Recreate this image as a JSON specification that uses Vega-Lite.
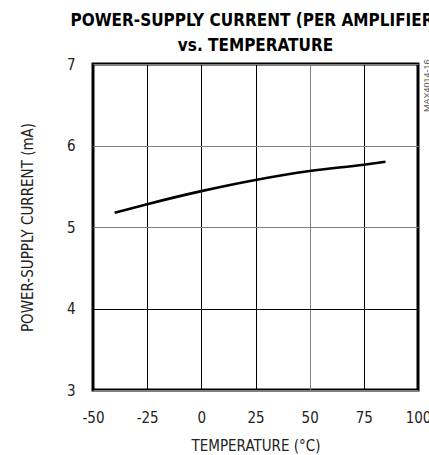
{
  "$schema": "https://vega.github.io/schema/vega-lite/v6.json",
  "width": 325,
  "height": 326,
  "autosize": "none",
  "padding": {"left": 93, "top": 64, "right": 11, "bottom": 65},
  "background": "white",
  "title": {
    "text": ["POWER-SUPPLY CURRENT (PER AMPLIFIER)", "vs. TEMPERATURE"],
    "font": "DejaVu Sans Condensed, DejaVu Sans, sans-serif",
    "fontSize": 17,
    "fontWeight": "bold",
    "color": "black",
    "anchor": "middle",
    "lineHeight": 25,
    "offset": 2
  },
  "config": {
    "view": {"stroke": "black", "strokeWidth": 3},
    "font": "DejaVu Sans Condensed, DejaVu Sans, sans-serif"
  },
  "layer": [
    {
      "data": {
        "values": [
          {"temp": -40, "current": 5.175},
          {"temp": -25, "current": 5.28},
          {"temp": 0, "current": 5.44},
          {"temp": 25, "current": 5.577},
          {"temp": 50, "current": 5.687},
          {"temp": 75, "current": 5.764},
          {"temp": 85, "current": 5.80}
        ]
      },
      "mark": {"type": "line", "color": "black", "strokeWidth": 2.6, "interpolate": "monotone"},
      "encoding": {
        "x": {
          "field": "temp",
          "type": "quantitative",
          "scale": {"domain": [-50, 100], "nice": false, "zero": false},
          "axis": {
            "values": [-50, -25, 0, 25, 50, 75, 100],
            "labelExpr": "datum.value + ''",
            "grid": true,
            "gridColor": {"condition": {"test": "datum.value === 50", "value": "#808080"}, "value": "#000000"},
            "gridOpacity": 1,
            "gridWidth": 1,
            "ticks": false,
            "domain": false,
            "labelPadding": 20,
            "labelFontSize": 15,
            "labelColor": "#222222",
            "labelFlush": false,
            "title": "TEMPERATURE (°C)",
            "titleFontSize": 15,
            "titleFontWeight": "normal",
            "titleColor": "#222222",
            "titlePadding": 13
          }
        },
        "y": {
          "field": "current",
          "type": "quantitative",
          "scale": {"domain": [3, 7], "nice": false, "zero": false},
          "axis": {
            "values": [3, 4, 5, 6, 7],
            "labelExpr": "datum.value + ''",
            "grid": true,
            "gridColor": {"condition": {"test": "datum.value === 4", "value": "#000000"}, "value": "#808080"},
            "gridOpacity": 1,
            "gridWidth": 1,
            "ticks": false,
            "domain": false,
            "labelPadding": 18,
            "labelFontSize": 15,
            "labelColor": "#222222",
            "labelFlush": false,
            "title": "POWER-SUPPLY CURRENT (mA)",
            "titleFontSize": 15,
            "titleFontWeight": "normal",
            "titleColor": "#222222",
            "titlePadding": 31
          }
        }
      }
    },
    {
      "data": {"values": [{"temp": 100, "current": 6.41, "label": "MAX4014-16"}]},
      "mark": {"type": "text", "angle": 270, "align": "left", "baseline": "middle", "fontSize": 9, "font": "Liberation Sans", "color": "#555555", "dx": 0, "dy": 9}
      ,
      "encoding": {
        "x": {"field": "temp", "type": "quantitative"},
        "y": {"field": "current", "type": "quantitative"},
        "text": {"field": "label"}
      }
    }
  ]
}
